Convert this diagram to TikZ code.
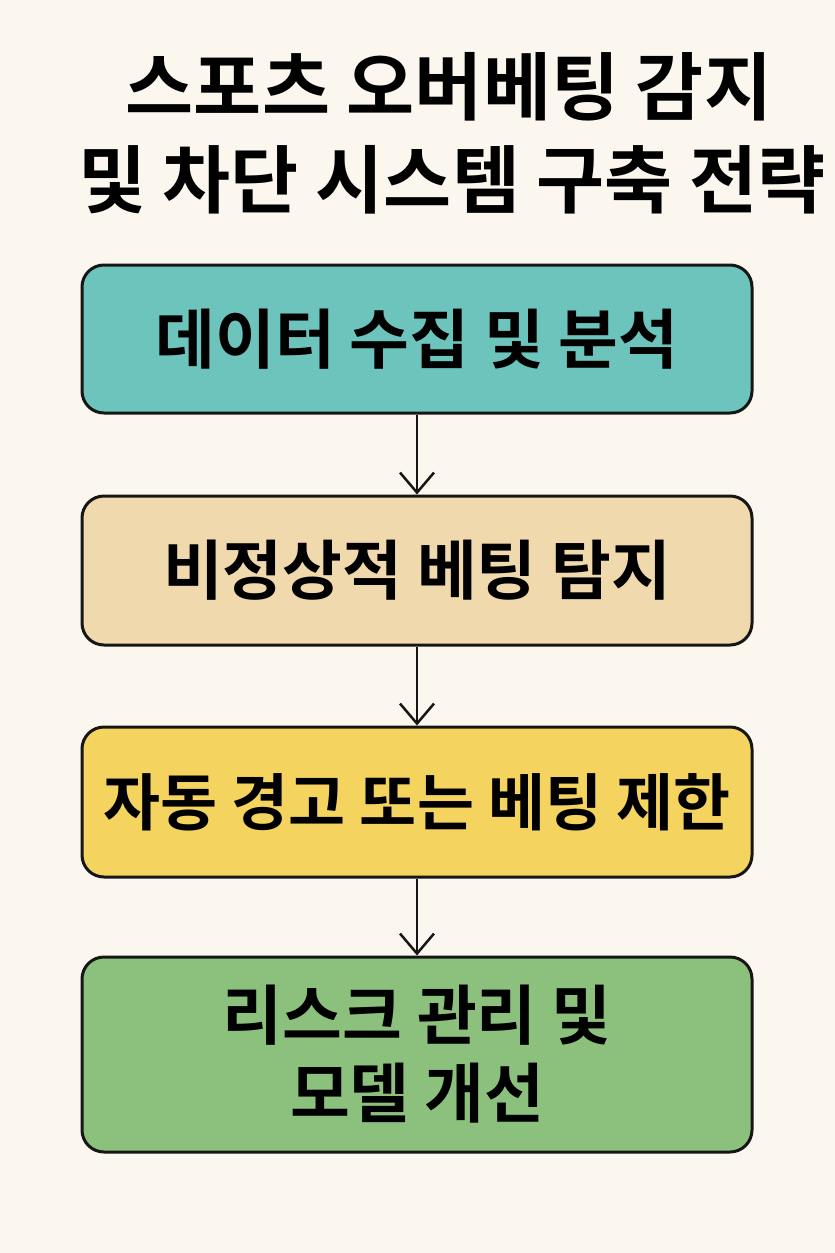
\documentclass[tikz,border=0pt]{standalone}
\usepackage{fontspec}
\setmainfont{Noto Sans CJK KR}[BoldFont={* Bold}]
\usetikzlibrary{arrows.meta}
\definecolor{paper}{HTML}{FBF7EE}
\definecolor{teal}{HTML}{6CC4BC}
\definecolor{sand}{HTML}{F0D9AC}
\definecolor{mustard}{HTML}{F4D35E}
\definecolor{leaf}{HTML}{8CC17D}
\definecolor{ink}{HTML}{161616}
\tikzset{
  stagebox/.style={draw=ink,line width=3pt,rounded corners=22pt,minimum width=670pt,inner sep=0pt,align=center,
    font=\fontsize{65}{78}\selectfont\bfseries},
  headline/.style={inner sep=0pt,align=center,font=\fontsize{74}{95}\selectfont\bfseries},
  flow/.style={draw=ink,line width=2.5pt,-{Straight Barb[length=20pt,width=34pt,line width=2.5pt]}}
}
\begin{document}
\begin{tikzpicture}[x=1pt,y=-1pt]
\fill[paper] (0,0) rectangle (835,1253);
\useasboundingbox (0,0) rectangle (835,1253);
\node[headline] (title1) at (449,87) {스포츠 오버베팅 감지};
\node[headline] (title2) at (452,180) {및 차단 시스템 구축 전략};
\node[stagebox,fill=teal,minimum height=148pt] (collect) at (417,339) {데이터 수집 및 분석};
\node[stagebox,fill=sand,minimum height=149pt] (detect) at (417,570.5) {비정상적 베팅 탐지};
\node[stagebox,fill=mustard,minimum height=150pt,font=\fontsize{62}{76}\selectfont\bfseries] (limit) at (417,802) {자동 경고 또는 베팅 제한};
\node[stagebox,fill=leaf,minimum height=195pt] (manage) at (417,1054.5) {리스크 관리 및\\모델 개선};
\draw[flow] (collect) -- (detect);
\draw[flow] (detect) -- (limit);
\draw[flow] (limit) -- (manage);
\end{tikzpicture}
\end{document}
